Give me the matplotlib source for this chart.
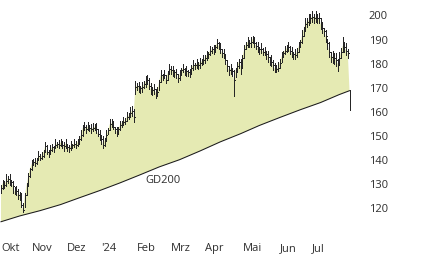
import numpy as np
import matplotlib
matplotlib.use("Agg")
import matplotlib.pyplot as plt

# Tageskurse (Close / High / Low)
close = [128, 130, 129.5, 131, 132, 131, 130.5, 129, 126.5, 127,
         125, 125.5, 121, 119, 125, 129, 133, 136, 138, 139,
         138.5, 139.5, 141.5, 140.5, 141.5, 143, 145.5, 143, 142.5, 144,
         145, 144.5, 146, 146.5, 146, 147, 146, 145.5, 146.5, 145,
         144.5, 145.5, 146, 146.5, 146, 147, 148.5, 150, 153, 153.5,
         152.5, 153.5, 153, 152.5, 153, 153.5, 152.5, 150.5, 149.5, 148.5,
         146, 148, 150, 152, 154.5, 155, 153.5, 152.5, 151.5, 152.5,
         154, 155, 155.5, 156, 157.5, 158, 159, 160, 157.5, 170,
         170.5, 170, 169.5, 170, 171, 172, 173, 170.5, 169, 168.5,
         169, 167.5, 168, 172, 175, 174.5, 175, 173, 175.5, 177.5,
         177, 176.5, 176, 175.5, 173.5, 175, 177, 177.5, 176.5, 176.5,
         176, 175.5, 178, 179, 179, 179.5, 179, 180, 180.5, 181,
         182, 183, 183.5, 185, 185.5, 185, 186.5, 188, 187, 185.5,
         184, 183.5, 181, 178.5, 177, 177.5, 176.5, 173, 177, 178.5,
         180.5, 178.5, 182, 185.5, 187.5, 188.5, 188, 188.5, 190, 188,
         187, 186, 185.5, 185.5, 184.5, 184.5, 183.5, 182.5, 181, 180.5,
         179, 177.5, 177.5, 178, 180, 182.5, 184, 185, 186, 186.5,
         185, 184, 183.5, 183, 184.5, 186.5, 188.5, 191, 193.5, 196,
         197, 197.5, 198.5, 199, 198.5, 199, 198.5, 198.5, 196, 194.5,
         193, 191, 188, 184.5, 182.5, 182.5, 182, 181, 179.5, 182,
         184.5, 187, 186.5, 185, 184, 163]

high = [129.5, 131.5, 131, 134, 133, 134, 131.5, 131, 128.5, 129,
        127.5, 126.5, 126, 122, 126, 130, 134.5, 136.5, 139.5, 140,
        140.5, 140.5, 143.5, 142, 143, 144, 147, 146, 144, 146,
        146.5, 145.5, 148.5, 147, 148, 148.5, 147.5, 147, 148.5, 146.5,
        146, 147.5, 146.5, 148.5, 147.5, 148.5, 149.5, 152, 154, 155.5,
        154, 155.5, 154, 154.5, 155, 154.5, 155, 152.5, 152, 150,
        149.5, 149, 152, 153, 156.5, 156.5, 156, 153.5, 153.5, 153.5,
        156, 156, 157.5, 157, 159.5, 159, 161.5, 162, 161, 172.5,
        171.5, 172, 170.5, 172, 172.5, 174.5, 175, 173.5, 171.5, 170,
        171, 169, 170, 173, 177, 175.5, 177, 175, 176.5, 179.5,
        178.5, 178.5, 177, 177.5, 175.5, 177, 178, 179.5, 178, 178.5,
        177, 177.5, 179, 181, 180, 181.5, 180.5, 182, 181.5, 183,
        183, 185, 184.5, 187, 186.5, 187.5, 187.5, 190, 188.5, 188,
        185.5, 185.5, 183.5, 181, 178.5, 179.5, 178, 177, 178, 180.5,
        181.5, 181.5, 183, 187.5, 188.5, 190.5, 189.5, 190.5, 191, 190.5,
        188.5, 188.5, 186.5, 188, 186, 186.5, 185, 185, 182.5, 183,
        181, 180, 179, 180.5, 181.5, 184.5, 185, 187, 187.5, 188.5,
        187, 186.5, 184.5, 185.5, 186, 188.5, 189.5, 193.5, 195, 198.5,
        198.5, 200, 200, 201.5, 200, 201.5, 200, 200.5, 198.5, 197,
        194.5, 193.5, 190, 188.5, 184.5, 185, 184, 184, 181.5, 184.5,
        186, 190.5, 188.5, 188, 185.5, 168.5]

low = [126, 127.5, 128, 129, 130, 129.5, 129, 126, 125.5, 125,
       123.5, 123, 120, 118, 120, 125, 129, 132.5, 135.5, 137.5,
       137, 138, 139.5, 139.5, 140, 141, 143, 142, 141, 142,
       143.5, 143, 144.5, 145, 144.5, 145.5, 144.5, 143.5, 144.5, 143.5,
       143, 144, 144.5, 145, 144.5, 145.5, 146.5, 148, 149.5, 152,
       151, 152, 151.5, 151, 151.5, 152, 151, 149.5, 148, 146.5,
       144.5, 145.5, 147.5, 150.5, 152, 153.5, 152.5, 151, 149.5, 150.5,
       152, 153.5, 154, 154.5, 156, 156.5, 157.5, 158, 155.5, 167,
       168.5, 168, 167.5, 168, 169.5, 170, 171, 169, 167, 166.5,
       167, 165.5, 166, 168.5, 172, 173, 173.5, 171.5, 173, 175.5,
       175.5, 174.5, 174, 173.5, 172, 173, 175, 176, 175, 174.5,
       174.5, 174, 175.5, 177, 177.5, 178, 177.5, 178, 179, 179.5,
       180, 181, 182, 183, 184, 183.5, 184.5, 186, 185.5, 184,
       182.5, 182, 179.5, 176.5, 175, 175.5, 174.5, 166, 174, 176,
       178, 175.5, 178, 182, 185.5, 186.5, 186.5, 186.5, 188, 186.5,
       185.5, 184.5, 183.5, 184, 183, 183, 181.5, 180.5, 179, 178.5,
       177, 176, 176, 176.5, 178, 180.5, 182.5, 183.5, 184.5, 185,
       183.5, 182.5, 181.5, 181.5, 182.5, 184.5, 186.5, 188, 191, 193,
       195, 195.5, 196.5, 197, 196.5, 197, 196.5, 196.5, 194, 192.5,
       191, 188.5, 185.5, 182.5, 180.5, 180, 179.5, 178.5, 176.5, 179,
       182, 184.5, 184.5, 183, 182, 160.5]

gd_tag = [0, 11, 23, 35, 46, 58, 70, 82, 93, 105, 117, 129, 141, 152, 164, 176, 188, 199, 205]
gd_wert = [114.1, 116.5, 118.7, 121.2, 124.0, 127.0, 130.2, 133.6, 136.8, 139.8,
           143.4, 147.2, 150.6, 154.0, 157.3, 160.5, 163.5, 166.8, 168.4]

monat_tag = [0, 18, 39, 59, 80, 100, 120, 142, 164, 183]
monat_label = ["Okt", "Nov", "Dez", "'24", "Feb", "Mrz", "Apr", "Mai", "Jun", "Jul"]
y_ticks = [120, 130, 140, 150, 160, 170, 180, 190, 200]

plt.rcParams['font.family'] = ['Open Sans', 'DejaVu Sans']
textfarbe = '#2e2e2e'

fig = plt.figure(figsize=(4.26, 2.55), dpi=100)
ax = fig.add_axes([0, 23 / 255, 355 / 426, 232 / 255])

x = np.arange(len(close))

# Flaeche zwischen Kurs und GD200
fx = list(x[:-1]) + gd_tag[::-1]
fy = close[:-1] + gd_wert[::-1]
ax.fill(fx, fy, color='#e5eab3', lw=0, zorder=1)

ax.plot(gd_tag, gd_wert, color='#1a1a1a', lw=0.75, zorder=2)

# Hoch/Tief Balken mit Schlusskurs-Strich
ax.vlines(x, low, high, color='#262626', lw=0.6, antialiased=False, zorder=3)
ax.hlines(close, x, x + 0.55, color='#262626', lw=0.6, antialiased=False, zorder=3)

ax.text(95.3, 131.8, "GD200", ha='center', va='center', fontsize=8, color=textfarbe)

ax.set_xlim(-0.59, -0.59 + 355 / 1.7)
ax.set_ylim(110.26, 206.4)

ax.yaxis.tick_right()
ax.set_yticks(y_ticks)
ax.set_yticklabels([str(v) for v in y_ticks])
ax.set_xticks(monat_tag)
ax.set_xticklabels(monat_label, ha='left')
ax.tick_params(axis='y', length=0, pad=10, labelsize=8, labelcolor=textfarbe)
ax.tick_params(axis='x', length=0, pad=8, labelsize=8, labelcolor=textfarbe)
for s in ax.spines.values():
    s.set_visible(False)

fig.savefig("out.png", dpi=100)
